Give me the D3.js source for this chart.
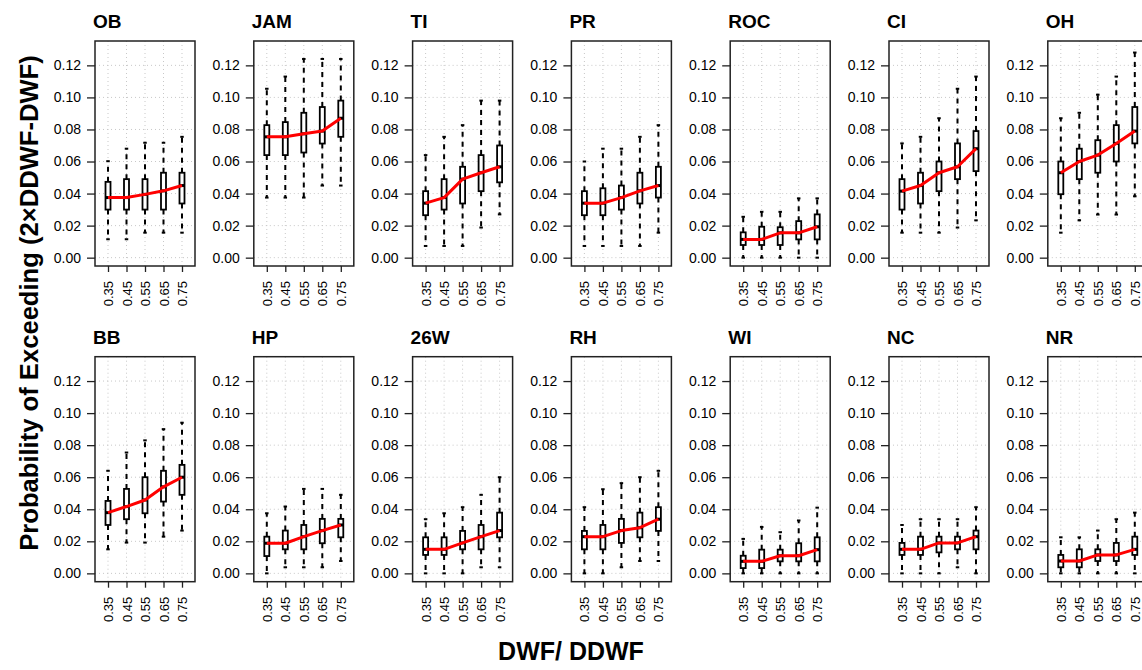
<!DOCTYPE html>
<html><head><meta charset="utf-8">
<script src="https://cdn.jsdelivr.net/npm/d3@7"></script>
<style>
body{margin:0;background:#fff}
svg{display:block}
text{font-family:"Liberation Sans",Arial,Helvetica,sans-serif;fill:#000}
</style>
</head><body>
<svg id="chart" width="1142" height="670"></svg>
<script>
// ---- data ----
const sites = ["OB","JAM","TI","PR","ROC","CI","OH","BB","HP","26W","RH","WI","NC","NR"];
const ratios = ["0.35","0.45","0.55","0.65","0.75"];
const yTicks = [0.00,0.02,0.04,0.06,0.08,0.10,0.12];
const yTickLabels = ["0.00","0.02","0.04","0.06","0.08","0.10","0.12"];
const yTitle = "Probability of Exceeding (2\u00D7DDWF-DWF)";
const xTitle = "DWF/ DDWF";
// each row: [lower whisker, Q1, median, Q3, upper whisker] for ratios 0.35..0.75
const OB  = [[0.0115,0.030,0.0375,0.0473,0.0602],[0.0115,0.030,0.0375,0.049,0.068],[0.0156,0.030,0.0395,0.049,0.0717],[0.0156,0.030,0.0417,0.053,0.0717],[0.0156,0.0338,0.045,0.053,0.0754]];
const JAM = [[0.0375,0.064,0.0754,0.0827,0.1054],[0.0375,0.064,0.0754,0.0846,0.113],[0.0375,0.0656,0.0773,0.0904,0.124],[0.045,0.0712,0.079,0.094,0.124],[0.045,0.0754,0.087,0.098,0.124]];
const TI  = [[0.0073,0.0265,0.034,0.0415,0.064],[0.0073,0.030,0.0375,0.049,0.0754],[0.0073,0.0338,0.049,0.0567,0.0827],[0.0188,0.0415,0.053,0.064,0.098],[0.027,0.047,0.0567,0.070,0.098]];
const PR  = [[0.0073,0.0265,0.034,0.0415,0.060],[0.0073,0.0265,0.034,0.0433,0.068],[0.0073,0.030,0.0375,0.045,0.068],[0.0073,0.0338,0.0417,0.053,0.0754],[0.0156,0.0375,0.045,0.0567,0.0827]];
const ROC = [[0.0,0.0079,0.0114,0.0158,0.0255],[0.0,0.0079,0.0114,0.0193,0.0286],[0.0,0.0079,0.0155,0.019,0.0286],[0.0,0.0114,0.0155,0.0228,0.037],[0.0,0.0114,0.0193,0.027,0.037]];
const CI  = [[0.0156,0.030,0.0415,0.049,0.0713],[0.0156,0.0338,0.045,0.053,0.0754],[0.0156,0.0415,0.053,0.060,0.087],[0.0188,0.049,0.0567,0.0713,0.1054],[0.0233,0.054,0.068,0.079,0.113]];
const OH  = [[0.0156,0.0396,0.053,0.060,0.087],[0.0233,0.049,0.060,0.068,0.0904],[0.0269,0.053,0.064,0.0733,0.1017],[0.0269,0.060,0.0713,0.0827,0.113],[0.0383,0.0713,0.079,0.094,0.128]];
const BB  = [[0.015,0.0302,0.0379,0.0452,0.064],[0.0192,0.0338,0.0417,0.0527,0.0754],[0.0192,0.0375,0.0458,0.060,0.083],[0.0229,0.0448,0.054,0.064,0.090],[0.0267,0.049,0.060,0.0677,0.094]];
const HP  = [[0.0,0.0108,0.0188,0.0229,0.0375],[0.0038,0.015,0.0188,0.0267,0.0417],[0.0038,0.015,0.0229,0.0302,0.0527],[0.0038,0.0188,0.0267,0.034,0.0527],[0.0077,0.0225,0.0302,0.034,0.049]];
const W26 = [[0.0,0.0115,0.015,0.0225,0.0338],[0.0,0.0115,0.015,0.0225,0.0375],[0.0,0.015,0.019,0.0265,0.0413],[0.0038,0.015,0.0229,0.0302,0.049],[0.0038,0.0225,0.0267,0.0379,0.060]];
const RH  = [[0.0,0.015,0.0229,0.0265,0.0413],[0.0,0.015,0.0229,0.0302,0.0525],[0.0038,0.019,0.0267,0.034,0.0563],[0.0077,0.0225,0.0285,0.0379,0.060],[0.0077,0.0265,0.0338,0.0413,0.064]];
const WI  = [[0.0,0.0033,0.0075,0.011,0.0215],[0.0,0.0033,0.0075,0.0148,0.029],[0.0,0.0075,0.011,0.0148,0.0257],[0.0,0.0075,0.011,0.0188,0.033],[0.0,0.0075,0.0148,0.0225,0.041]];
const NC  = [[0.0,0.0115,0.015,0.019,0.0302],[0.0,0.0115,0.015,0.0229,0.0338],[0.0,0.0131,0.019,0.0229,0.0338],[0.0038,0.015,0.019,0.0229,0.0338],[0.0,0.015,0.0229,0.0267,0.0413]];
const NR  = [[0.0,0.0038,0.0077,0.0115,0.0225],[0.0,0.0038,0.0077,0.015,0.0225],[0.0,0.0077,0.0115,0.015,0.0267],[0.0,0.0077,0.0115,0.019,0.0338],[0.0,0.0115,0.015,0.0229,0.0379]];
const siteStats = [OB,JAM,TI,PR,ROC,CI,OH,BB,HP,W26,RH,WI,NC,NR];

// ---- layout ----
const svg = d3.select("#chart");
const panelW = 100, panelH = 225;
const colStep = 158.8;
const leftFirst = 95;
const rowTops = [41, 356.7];

const y = d3.scaleLinear().domain([-0.0052, 0.1352]).range([panelH, 0]);
const x = d3.scalePoint().domain(ratios).range([0, panelW]).padding(0.703);

const boxW = 5, stapleW = 3.5;

sites.forEach((name, si) => {
  const row = Math.floor(si / 7), col = si % 7;
  const g = svg.append("g").attr("transform", `translate(${leftFirst + col*colStep},${rowTops[row]})`);
  const stats = siteStats[si];

  // grid
  g.append("g").selectAll("line.hg").data(yTicks).join("line")
    .attr("x1", 0).attr("x2", panelW).attr("y1", d => y(d)).attr("y2", d => y(d))
    .attr("stroke", "#c8c8c8").attr("stroke-width", 1).attr("stroke-dasharray", "1,3");
  g.append("g").selectAll("line.vg").data(ratios).join("line")
    .attr("x1", d => x(d)).attr("x2", d => x(d)).attr("y1", 0).attr("y2", panelH)
    .attr("stroke", "#c8c8c8").attr("stroke-width", 1).attr("stroke-dasharray", "1,3");

  // y axis
  const yAxis = d3.axisLeft(y).tickValues(yTicks).tickSize(8).tickPadding(6)
    .tickFormat((d,i) => yTickLabels[i]);
  const ya = g.append("g").call(yAxis);
  ya.select(".domain").remove();
  ya.selectAll(".tick line").attr("stroke", "#222").attr("stroke-width", 1.3);
  ya.selectAll(".tick text").attr("font-size", 14).attr("fill", "#222")
    .attr("font-family", '"Liberation Sans",Arial,sans-serif');

  // x axis
  const xAxis = d3.axisBottom(x).tickSize(6).tickPadding(0);
  const xa = g.append("g").attr("transform", `translate(0,${panelH})`).call(xAxis);
  xa.select(".domain").remove();
  xa.selectAll(".tick line").attr("stroke", "#222").attr("stroke-width", 1.3);
  xa.selectAll(".tick text").attr("font-size", 13).attr("fill", "#222")
    .attr("font-family", '"Liberation Sans",Arial,sans-serif')
    .attr("transform", "rotate(-90)")
    .attr("text-anchor", "end")
    .attr("x", -15).attr("y", 0).attr("dy", "0.35em");

  // boxes
  const bx = g.append("g");
  stats.forEach((s, i) => {
    const cx = x(ratios[i]);
    const [lo, q1, med, q3, hi] = s;
    bx.append("line").attr("x1", cx).attr("x2", cx).attr("y1", y(q3)).attr("y2", y(hi))
      .attr("stroke", "#000").attr("stroke-width", 2).attr("stroke-dasharray", "5,5");
    bx.append("line").attr("x1", cx).attr("x2", cx).attr("y1", y(q1)).attr("y2", y(lo))
      .attr("stroke", "#000").attr("stroke-width", 2).attr("stroke-dasharray", "5,5");
    [lo, hi].forEach(v => {
      bx.append("line").attr("x1", cx - stapleW/2).attr("x2", cx + stapleW/2)
        .attr("y1", y(v)).attr("y2", y(v)).attr("stroke", "#000").attr("stroke-width", 2);
    });
    bx.append("rect").attr("x", cx - boxW/2).attr("width", boxW)
      .attr("y", y(q3)).attr("height", y(q1) - y(q3))
      .attr("fill", "#fff").attr("stroke", "#000").attr("stroke-width", 1.8);
    bx.append("line").attr("x1", cx - boxW/2).attr("x2", cx + boxW/2)
      .attr("y1", y(med)).attr("y2", y(med)).attr("stroke", "#000").attr("stroke-width", 3);
  });

  // median line
  const line = d3.line().x((d, i) => x(ratios[i])).y(d => y(d[2])).curve(d3.curveLinear);
  g.append("path").datum(stats).attr("d", line).attr("fill", "none")
    .attr("stroke", "#ff0000").attr("stroke-width", 3).attr("stroke-linejoin", "round");

  // frame
  g.append("rect").attr("x", 0).attr("y", 0).attr("width", panelW).attr("height", panelH)
    .attr("fill", "none").attr("stroke", "#222").attr("stroke-width", 1.5);

  // title
  g.append("text").attr("x", -2).attr("y", -13).text(name)
    .attr("font-size", 19).attr("font-weight", "bold");
});

// axis titles
svg.append("text").attr("transform", "translate(38,303) rotate(-90)")
  .attr("text-anchor", "middle").attr("font-size", 25.6).attr("font-weight", "bold")
  .text(yTitle);
svg.append("text").attr("x", 571).attr("y", 660)
  .attr("text-anchor", "middle").attr("font-size", 25).attr("font-weight", "bold")
  .text(xTitle);
</script>
</body></html>
